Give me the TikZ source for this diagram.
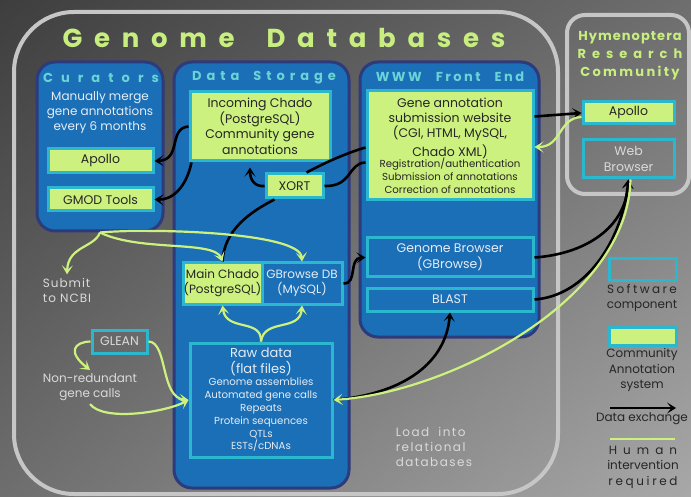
\documentclass[tikz,border=0pt]{standalone}
\usepackage{fontspec}
\setmainfont{Poppins}
\usepackage{tikz}
\usetikzlibrary{arrows.meta,shadings}

\definecolor{bgdark}{HTML}{3E3E3E}
\definecolor{bgmid}{HTML}{6E6E6E}
\definecolor{bglight}{HTML}{A8A8A8}
\definecolor{boxblue}{HTML}{1B6FB6}
\definecolor{navyedge}{HTML}{2D3A7C}
\definecolor{cyanedge}{HTML}{2BB7CE}
\definecolor{leaf}{HTML}{CDF17E}
\definecolor{titlegreen}{HTML}{C8EE80}
\definecolor{secteal}{HTML}{6AD3D6}
\definecolor{framegrey}{HTML}{C6C6C6}
\definecolor{paletxt}{HTML}{E4ECF4}
\definecolor{greytxt}{HTML}{DADADA}
\definecolor{darktxt}{HTML}{262626}

\newcommand\boxfont{\fontsize{12.5}{15.5}\selectfont}
\newcommand\listfont{\fontsize{10.2}{12.8}\selectfont}
\newcommand\sectfont[1]{\fontsize{13}{15}\selectfont\bfseries\addfontfeature{LetterSpace=#1}}

\tikzset{
  outerframe/.style={draw=framegrey, line width=4pt, inner sep=0pt},
  column/.style={draw=navyedge, line width=3pt, fill=boxblue, rounded corners=18pt, inner sep=0pt},
  softbox/.style={draw=cyanedge, line width=3pt, fill=boxblue, text=paletxt, inner sep=0pt, align=center, font=\boxfont},
  leafbox/.style={softbox, fill=leaf, text=darktxt},
  greybox/.style={softbox, fill=none, text=greytxt},
  sect/.style={text=secteal},
  note/.style={text=greytxt, align=center, font=\fontsize{12}{15}\selectfont},
  legend/.style={text=darktxt, align=center, font=\fontsize{12}{15.5}\selectfont},
  datalink/.style={draw=black, line width=2.6pt, -{Stealth[length=9pt,width=11pt,inset=4.5pt]}},
  humanlink/.style={draw=leaf, line width=2.2pt, -{Stealth[length=9pt,width=11pt,inset=4.5pt]}}
}

\begin{document}
\begin{tikzpicture}[x=1pt,y=-1pt]
\useasboundingbox (0,0) rectangle (691,497);
\shade[upper left=bgdark, upper right=bgmid, lower left=bgmid, lower right=bglight] (0,0) rectangle (691,497);

% Frames
\node[outerframe, rounded corners=60pt, minimum width=544pt, minimum height=482pt] (gdb) at (286,253) {};
\node[outerframe, rounded corners=18pt, minimum width=122pt, minimum height=179pt] (hrc) at (628,104.5) {};
\node[text=titlegreen, font=\fontsize{26}{30}\selectfont\bfseries\addfontfeature{LetterSpace=45}] (gdbtitle) at (284,38) {Genome\hspace{32pt}Databases};
\node[text=titlegreen, align=center, font=\fontsize{13}{18}\selectfont\bfseries] (hrctitle) at (630,56)
  {{\addfontfeature{LetterSpace=8}Hymenoptera}\\{\addfontfeature{LetterSpace=46}Research}\\{\addfontfeature{LetterSpace=18}Community}};

% Columns
\node[column, minimum width=126pt, minimum height=169pt] (curators) at (100,146.5) {};
\node[column, minimum width=175pt, minimum height=426pt] (storage) at (261.5,275) {};
\node[column, minimum width=179pt, minimum height=275pt] (www) at (449.5,199.5) {};
\node[sect, font=\sectfont{62}] (curtitle) at (101,78) {Curators};
\node[sect, font=\sectfont{38}] (stotitle) at (264,78) {Data\hspace{14pt}Storage};
\node[sect, font=\sectfont{19}] (wwwtitle) at (450,77) {WWW\hspace{14pt}Front\hspace{14pt}End};

% Curators
\node[text=paletxt, align=center, font=\fontsize{12}{15}\selectfont] (merge) at (100,113) {Manually merge\\gene annotations\\every 6 months};
\node[leafbox, minimum width=105pt, minimum height=24pt] (apolloC) at (100.5,161) {Apollo};
\node[leafbox, minimum width=105pt, minimum height=23pt] (gmod) at (100.5,199.5) {GMOD Tools};

% Data storage
\node[leafbox, minimum width=140pt, minimum height=69pt] (incoming) at (260,126.5)
  {Incoming Chado\\(PostgreSQL)\\Community gene\\annotations};
\node[leafbox, minimum width=57pt, minimum height=24pt] (xort) at (294.5,186) {XORT};
\node[leafbox, minimum width=79pt, minimum height=41pt, font=\fontsize{12}{15}\selectfont] (mainchado) at (222.5,283.5) {Main Chado\\(PostgreSQL)};
\node[softbox, minimum width=80pt, minimum height=41pt, font=\fontsize{12}{15}\selectfont] (gbrowsedb) at (302,283.5) {GBrowse DB\\(MySQL)};
\node[softbox, minimum width=142pt, minimum height=114pt, font=\listfont] (rawdata) at (261,400)
  {{\fontsize{13}{15}\selectfont Raw data}\\[2.5pt]{\fontsize{13}{15}\selectfont (flat files)}\\[0pt]
   Genome assemblies\\Automated gene calls\\Repeats\\Protein sequences\\QTLs\\ESTs/cDNAs};

% WWW front end
\node[leafbox, minimum width=166pt, minimum height=109pt, font=\listfont] (geneannot) at (450,145.5)
  {{\boxfont Gene annotation}\\[2.5pt]{\boxfont submission website}\\[2.5pt]{\boxfont (CGI, HTML, MySQL,}\\[2.5pt]
   {\boxfont Chado XML)}\\[-1pt]Registration/authentication\\Submission of annotations\\Correction of annotations};
\node[softbox, minimum width=166pt, minimum height=39pt] (genomebrowser) at (450,257.5) {Genome Browser\\(GBrowse)};
\node[softbox, minimum width=166pt, minimum height=23pt] (blast) at (450,299.5) {BLAST};

% Community
\node[leafbox, minimum width=91pt, minimum height=22pt] (apolloH) at (628.5,113) {Apollo};
\node[greybox, minimum width=91pt, minimum height=38pt] (webbrowser) at (628.5,159) {Web\\Browser};

% Outside notes
\node[note, align=left, font=\fontsize{12}{15}\selectfont\addfontfeature{LetterSpace=8}] (ncbi) at (67,290) {Submit\\to NCBI};
\node[greybox, minimum width=55pt, minimum height=23pt] (glean) at (119.5,341.5) {GLEAN};
\node[note] (nonred) at (90,387) {Non-redundant\\gene calls};
\node[note, align=left, font=\fontsize{12}{15}\selectfont\addfontfeature{LetterSpace=12}] (loadnote) at (434,447)
  {Load\ \ into\\relational\\databases};

% Legend
\node[softbox, fill=none, minimum width=67pt, minimum height=22pt] (legsoft) at (642.5,270) {};
\node[legend] (legsofttxt) at (642,298) {{\addfontfeature{LetterSpace=20}Software}\\component};
\node[leafbox, minimum width=67pt, minimum height=18pt] (legcomm) at (642.5,336) {};
\node[legend] (legcommtxt) at (642,370) {Community\\Annotation\\system};
\coordinate (legdataA) at (610,408);
\coordinate (legdataB) at (676,408);
\draw[datalink] (legdataA) -- (legdataB);
\node[legend] (legdatatxt) at (642,419) {Data exchange};
\coordinate (leghumA) at (610,439);
\coordinate (leghumB) at (675,439);
\draw[draw=leaf, line width=2.2pt] (leghumA) -- (leghumB);
\node[legend] (leghumtxt) at (643,467)
  {{\addfontfeature{LetterSpace=50}Human}\\intervention\\{\addfontfeature{LetterSpace=22}required}};

% Data exchange
\draw[datalink] (incoming.west) .. controls (168,128) and (182,160) .. (apolloC.east);
\draw[datalink] ([xshift=3pt]incoming.south west) .. controls (186,188) and (172,200) .. (gmod.east);
\draw[datalink] (xort.west) .. controls (255,187) and (250,180) .. ([xshift=-10pt,yshift=-5pt]incoming.south);
\draw[line width=2.6pt] ([xshift=12pt]xort.north) .. controls (330,160) and (350,152) .. ([yshift=-2pt]geneannot.west);
\draw[line width=2.6pt] (xort.east) .. controls (352,187) and (348,163) .. ([yshift=-17pt]geneannot.west);
\draw[line width=2.6pt] (mainchado.north) .. controls (224,230) and (250,212) .. ([xshift=-20pt]xort.south);
\draw[datalink] (gbrowsedb.east) .. controls (358,284) and (348,258) .. (genomebrowser.west);
\draw[datalink] ([yshift=29pt]geneannot.east) -- (apolloH.west);
\draw[datalink] (genomebrowser.east) .. controls (585,254) and (626,228) .. (webbrowser.south);
\draw[datalink] (blast.east) .. controls (585,296) and (622,242) .. (webbrowser.south);
\draw[datalink] (rawdata.east) .. controls (405,394) and (446,362) .. (blast.south);

% Human intervention
\draw[humanlink] (curators.south) .. controls (94,248) and (68,246) .. (ncbi.north);
\draw[humanlink] (curators.south) .. controls (140,252) and (214,240) .. (mainchado.north);
\draw[humanlink] (curators.south) .. controls (150,228) and (300,232) .. (gbrowsedb.north);
\draw[humanlink] (rawdata.north) .. controls (262,318) and (226,332) .. (mainchado.south);
\draw[humanlink] (rawdata.north) .. controls (264,318) and (300,332) .. (gbrowsedb.south);
\draw[humanlink] (glean.west) .. controls (74,342) and (67,352) .. (nonred.north);
\draw[humanlink] (glean.east) .. controls (168,342) and (160,398) .. (rawdata.west);
\draw[humanlink] (nonred.south) .. controls (104,422) and (166,412) .. (rawdata.west);
\draw[humanlink] ([xshift=2pt]webbrowser.south) .. controls (628,300) and (450,392) .. (rawdata.east);
\draw[humanlink] ([yshift=-4pt]apolloH.west) .. controls (558,118) and (562,147) .. ([yshift=-1.5pt]geneannot.east);
\end{tikzpicture}
\end{document}
